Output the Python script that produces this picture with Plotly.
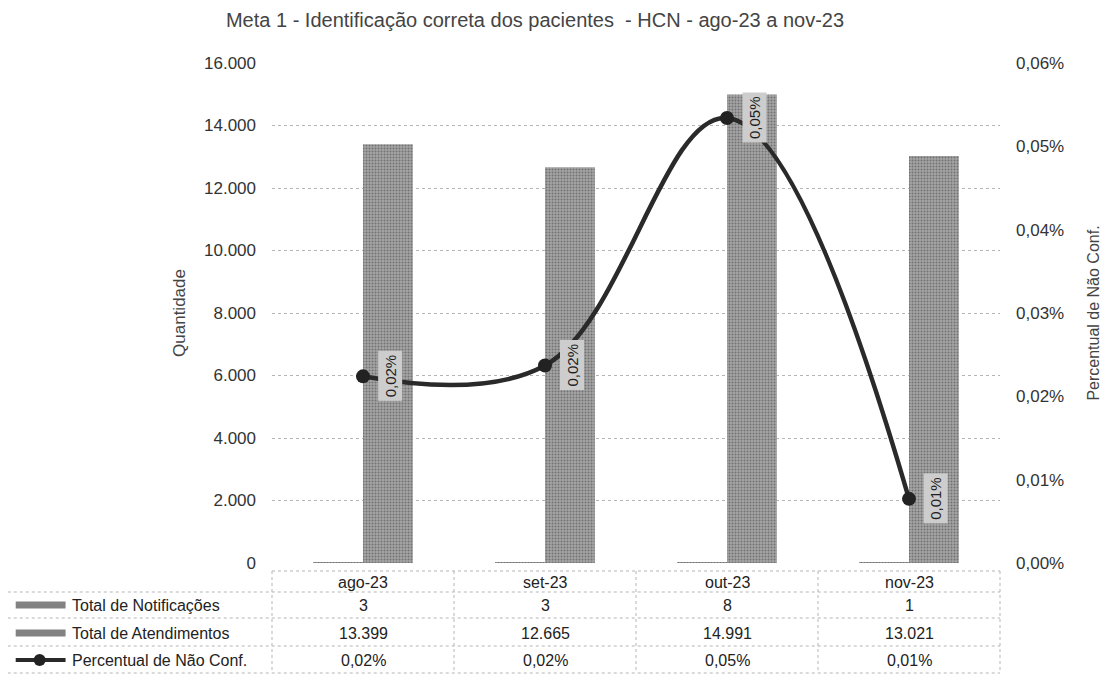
import plotly.graph_objects as go

# ---- data ----
categories = ["ago-23", "set-23", "out-23", "nov-23"]
notificacoes = [3, 3, 8, 1]
atendimentos = [13399, 12665, 14991, 13021]
percentual = [0.0224, 0.0237, 0.0534, 0.0077]  # in %
y_ticks = [0, 2000, 4000, 6000, 8000, 10000, 12000, 14000, 16000]
series_names = ["Total de Notificações", "Total de Atendimentos", "Percentual de Não Conf."]

# page body has an 8px margin -> compensate
OFF = 8
W_REF, H_REF = 1111, 675
W, H = W_REF - OFF, H_REF - OFF
L, R, T, B = 272, 1002, 63, 563  # plot area in reference px


def px(xp):
    return (xp - L) / (R - L)


def py(yp):
    return (B - yp) / (B - T)


FONT = "Liberation Sans, Arial, sans-serif"
bar_pattern = dict(shape=".", size=3, solidity=0.35, fgcolor="#404040", bgcolor="#a4a4a4")

fig = go.Figure()
fig.add_trace(go.Bar(x=categories, y=notificacoes, name=series_names[0],
                     marker=dict(color="#828282", pattern=bar_pattern, line=dict(width=0))))
fig.add_trace(go.Bar(x=categories, y=atendimentos, name=series_names[1],
                     marker=dict(color="#828282", pattern=bar_pattern, line=dict(width=0))))
fig.add_trace(go.Scatter(x=categories, y=percentual, name=series_names[2], yaxis="y2",
                         mode="lines+markers",
                         line=dict(color="#2a2a2a", width=4.5, shape="spline", smoothing=1.1),
                         marker=dict(size=14, color="#222222")))

annotations = []
# data labels (rotated, next to markers, over the Atendimentos bar)
for c, v in zip(categories, percentual):
    annotations.append(dict(x=c, y=v, xref="x", yref="y2", xshift=27,
                            text=f"{v:.2f}%".replace(".", ","), textangle=-90,
                            showarrow=False, bgcolor="#cdcdcd",
                            font=dict(family=FONT, size=15, color="#1e1e1e"),
                            borderpad=3))

# data table rows
row_y = [582, 605, 633, 660]
table_font = dict(family=FONT, size=16, color="#222")
for c in categories:
    annotations.append(dict(x=c, y=py(row_y[0]), xref="x", yref="paper", text=c,
                            xanchor="center", yanchor="middle",
                            showarrow=False, font=table_font))
rows = [
    [str(v) for v in notificacoes],
    [f"{v:,}".replace(",", ".") for v in atendimentos],
    [f"{v:.2f}%".replace(".", ",") for v in percentual],
]
for r_i, vals in enumerate(rows):
    for c, t in zip(categories, vals):
        annotations.append(dict(x=c, y=py(row_y[r_i + 1]), xref="x", yref="paper", text=t,
                                xanchor="center", yanchor="middle",
                                showarrow=False, font=table_font))
    annotations.append(dict(x=px(69), y=py(row_y[r_i + 1]), xref="paper", yref="paper",
                            text=series_names[r_i], xanchor="left", yanchor="middle",
                            showarrow=False, font=table_font))

shapes = []
grid_col = "#b5b5b5"
# horizontal borders
for yb, x0 in [(571, L), (592, 1), (618, 1), (646, 1), (673, 1)]:
    shapes.append(dict(type="line", xref="paper", yref="paper", x0=px(x0), x1=1,
                       y0=py(yb), y1=py(yb), line=dict(color=grid_col, width=1, dash="dot")))
# vertical borders
for i in range(len(categories) + 1):
    xv = L + i * (R - L) / len(categories)
    shapes.append(dict(type="line", xref="paper", yref="paper", x0=px(xv), x1=px(xv),
                       y0=py(571), y1=py(673), line=dict(color=grid_col, width=1, dash="dot")))
shapes.append(dict(type="line", xref="paper", yref="paper", x0=px(1), x1=px(1),
                   y0=py(592), y1=py(673), line=dict(color=grid_col, width=1, dash="dot")))
# legend keys
for r_i in range(2):
    yc = row_y[r_i + 1]
    shapes.append(dict(type="rect", xref="paper", yref="paper", x0=px(15), x1=px(65),
                       y0=py(yc + 3.5), y1=py(yc - 3.5), fillcolor="#828282",
                       line=dict(width=0)))
yc = row_y[3]
shapes.append(dict(type="line", xref="paper", yref="paper", x0=px(15), x1=px(65),
                   y0=py(yc), y1=py(yc), line=dict(color="#2a2a2a", width=4)))
shapes.append(dict(type="circle", xref="paper", yref="paper", x0=px(33), x1=px(45),
                   y0=py(yc + 6), y1=py(yc - 6), fillcolor="#222222",
                   line=dict(width=0)))

fig.update_layout(
    width=W, height=H, autosize=False,
    margin=dict(l=L - OFF, r=W_REF - R, t=T - OFF, b=H_REF - B, pad=0),
    paper_bgcolor="white", plot_bgcolor="white",
    separators=",.",
    barmode="group", bargap=0.452, bargroupgap=0,
    showlegend=False,
    font=dict(family=FONT, size=16, color="#333"),
    title=dict(text="Meta 1 - Identificação correta dos pacientes  - HCN - ago-23 a nov-23",
               x=(535 - OFF) / W, xanchor="center", y=1 - (20 - OFF) / H, yanchor="middle",
               font=dict(family=FONT, size=20, color="#444")),
    xaxis=dict(showticklabels=False, showgrid=False, zeroline=False, showline=False,
               ticks=""),
    yaxis=dict(range=[0, 16000], tickvals=y_ticks, tickformat=",d",
               showgrid=True, gridcolor=grid_col, griddash="dot", gridwidth=1,
               zeroline=False, showline=False, ticklabelstandoff=15,
               tickfont=dict(family=FONT, size=17, color="#333"),
               title=dict(text="Quantidade", standoff=14,
                          font=dict(family=FONT, size=17, color="#444"))),
    yaxis2=dict(range=[0, 0.06], dtick=0.01, tickformat=".2f", ticksuffix="%",
                overlaying="y", side="right", showgrid=False, zeroline=False,
                showline=False, ticklabelstandoff=15,
                tickfont=dict(family=FONT, size=17, color="#333"),
                title=dict(text="Percentual de Não Conf.", standoff=24,
                           font=dict(family=FONT, size=16, color="#444"))),
    annotations=annotations,
    shapes=shapes,
)

fig.write_html("out.html")
